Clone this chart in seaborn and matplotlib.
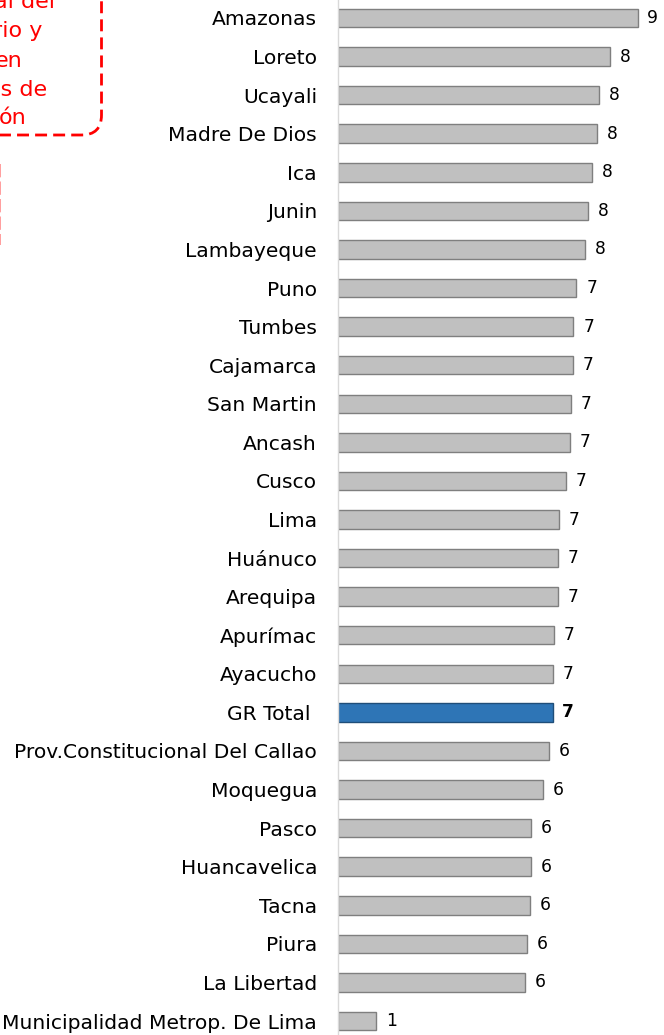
import matplotlib
matplotlib.use('Agg')
import matplotlib.pyplot as plt
import seaborn as sns
from matplotlib.patches import FancyBboxPatch
from matplotlib.lines import Line2D

# Datos
regiones = ['Amazonas', 'Loreto', 'Ucayali', 'Madre De Dios', 'Ica', 'Junin',
            'Lambayeque', 'Puno', 'Tumbes', 'Cajamarca', 'San Martin', 'Ancash',
            'Cusco', 'Lima', 'Huánuco', 'Arequipa', 'Apurímac', 'Ayacucho',
            'GR Total ', 'Prov.Constitucional Del Callao', 'Moquegua', 'Pasco',
            'Huancavelica', 'Tacna', 'Piura', 'La Libertad',
            'Municipalidad Metrop. De Lima']
valores = [9.17, 8.34, 7.98, 7.94, 7.78, 7.65, 7.57, 7.30, 7.21, 7.18, 7.13,
           7.09, 6.97, 6.77, 6.73, 6.73, 6.61, 6.57, 6.57, 6.45, 6.28, 5.92,
           5.92, 5.88, 5.80, 5.72, 1.18]
etiquetas = ['9', '8', '8', '8', '8', '8', '8', '7', '7', '7', '7', '7', '7',
             '7', '7', '7', '7', '7', '7', '6', '6', '6', '6', '6', '6', '6', '1']
total = 'GR Total '

# Texto del recuadro (solo la parte visible)
nota = ['al del', 'rio y', 'en', 'os de', 'ón']

sns.set_style('white')
plt.rcParams['font.family'] = ['DejaVu Sans']

colores = ['#2e75b6' if r == total else '#c0c0c0' for r in regiones]
bordes = ['#1f4e79' if r == total else '#7f7f7f' for r in regiones]

fig = plt.figure(figsize=(6.64, 10.35), dpi=100)
ax = fig.add_axes([0.5086, -0.00512, 0.4925, 1.00637])

sns.barplot(x=valores, y=regiones, hue=regiones, palette=colores,
            saturation=1, orient='h', width=0.48, legend=False, ax=ax)

for i, p in enumerate(ax.patches):
    p.set_edgecolor(bordes[i])
    p.set_linewidth(1.0)

for i, c in enumerate(ax.containers):
    r = regiones[i]
    ax.bar_label(c, labels=[etiquetas[i]], padding=7, fontsize=12.3,
                 fontweight='bold' if r == total else 'normal', color='black')

ax.set_xlim(0, 10)
ax.set_ylim(26.5, -0.5)
ax.set_xlabel('')
ax.set_ylabel('')
ax.set_xticks([])
ax.tick_params(axis='y', length=0, pad=14.9, labelsize=14.6, labelcolor='black')
for s in ['top', 'right', 'bottom']:
    ax.spines[s].set_visible(False)
ax.spines['left'].set_color('#d9d9d9')
ax.spines['left'].set_linewidth(1.0)

# Recuadro rojo con borde discontinuo (cortado en la esquina)
caja = FancyBboxPatch((-3.0, 9.0), 4.015, 5.0,
                      boxstyle='round,pad=0,rounding_size=0.2',
                      transform=fig.dpi_scale_trans, fill=False,
                      edgecolor='#ff0000', linewidth=2,
                      linestyle=(0, (4.3, 2.2)))
fig.add_artist(caja)

pos_x = [55, 42, 23, 47, 26]
pos_y = [8, 37, 67.5, 96, 124]
for t, px, py in zip(nota, pos_x, pos_y):
    fig.text(px / 100, (1035 - py) / 100, t, transform=fig.dpi_scale_trans,
             ha='right', va='baseline', fontsize=16, color='#ff0000')

linea = Line2D([0.004, 0.004], [(1035 - 164) / 100, (1035 - 245) / 100],
               transform=fig.dpi_scale_trans, color='#ff8c8c', linewidth=1.2,
               linestyle=(0, (8, 2.5)))
fig.add_artist(linea)

plt.savefig('out.png', dpi=100)
